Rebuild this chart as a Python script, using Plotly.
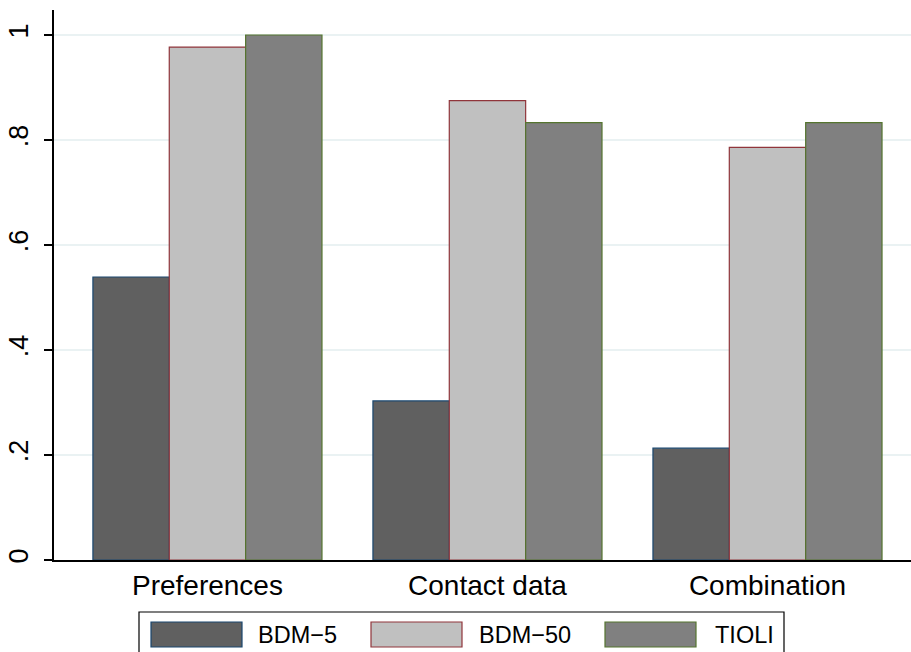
import plotly.graph_objects as go

categories = ["Preferences", "Contact data", "Combination"]
series_names = ["BDM\u22125", "BDM\u221250", "TIOLI"]
bdm5 = [0.539, 0.303, 0.213]
bdm50 = [0.977, 0.875, 0.786]
tioli = [1.0, 0.833, 0.833]
y_tickvals = [0, 0.2, 0.4, 0.6, 0.8, 1.0]
y_ticktext = ["0", ".2", ".4", ".6", ".8", "1"]

fills = ["#606060", "#c0c0c0", "#808080"]
outlines = ["#1a476f", "#90353b", "#55752f"]

W, H = 911, 652
L, R, T, B = 54, 0, 10, 92
PW, PH = W - L - R, H - T - B
FONT = "Liberation Sans, Arial, Helvetica, sans-serif"


def px_x(p):
    return (p - L) / PW


def px_y(p):
    return (H - B - p) / PH


fig = go.Figure()
for name, vals, fc, lc in zip(series_names, [bdm5, bdm50, tioli], fills, outlines):
    fig.add_trace(go.Bar(
        x=categories, y=vals, name=name,
        marker=dict(color=fc, line=dict(color=lc, width=1.2)),
        showlegend=False,
    ))

# manual Stata-style legend
shapes = [dict(type="rect", xref="paper", yref="paper",
               x0=px_x(139), x1=px_x(784), y0=px_y(612), y1=px_y(670),
               line=dict(color="black", width=1.2), fillcolor="white", layer="above")]
annotations = []
sw_x = [151, 371, 605]
tx_x = [256, 477, 713]
for i, name in enumerate(series_names):
    shapes.append(dict(type="rect", xref="paper", yref="paper",
                       x0=px_x(sw_x[i]), x1=px_x(sw_x[i] + 91),
                       y0=px_y(622), y1=px_y(647),
                       line=dict(color=outlines[i], width=1.2),
                       fillcolor=fills[i], layer="above"))
    annotations.append(dict(xref="paper", yref="paper", x=px_x(tx_x[i]), y=px_y(635),
                            text=name, showarrow=False, xanchor="left", yanchor="middle",
                            font=dict(family=FONT, size=23.5, color="black")))

fig.update_layout(
    width=W, height=H,
    margin=dict(l=L, r=R, t=T, b=B, pad=0),
    paper_bgcolor="white", plot_bgcolor="white",
    barmode="group", bargap=0.182, bargroupgap=0,
    font=dict(family=FONT, color="black"),
    shapes=shapes, annotations=annotations,
    showlegend=False,
)
fig.update_xaxes(
    range=[-0.548, 2.5125], showline=True, linecolor="black", linewidth=1.5,
    ticks="", showgrid=False, zeroline=False,
    tickfont=dict(family=FONT, size=28, color="black"),
)
fig.update_yaxes(
    range=[0, 1.0476], tickvals=y_tickvals, ticktext=y_ticktext,
    tickangle=-90, ticks="outside", ticklen=8, tickwidth=1.5, tickcolor="black",
    ticklabelstandoff=5,
    showline=True, linecolor="black", linewidth=1.5,
    showgrid=True, gridcolor="#eaf2f3", gridwidth=1.5, zeroline=False,
    tickfont=dict(family=FONT, size=27, color="black"),
)

fig.write_html(
    "out.html",
    config={"displayModeBar": False},
    post_script="document.body.style.margin='0';document.body.style.padding='0';",
)
